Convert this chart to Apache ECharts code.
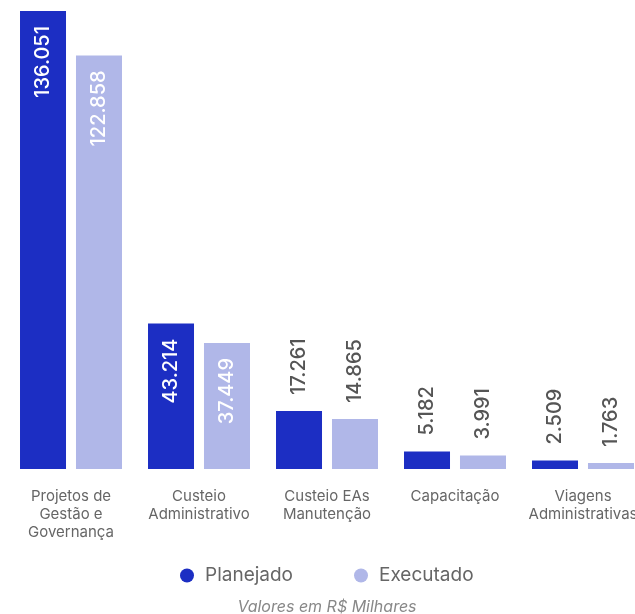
<!DOCTYPE html>
<html>
<head>
<meta charset="utf-8">
<script src="https://cdn.jsdelivr.net/npm/echarts@6/dist/echarts.min.js"></script>
<style>
  html, body { margin: 0; padding: 0; background: #ffffff; }
  #chart { width: 635px; height: 614px; }
</style>
</head>
<body>
<div id="chart"></div>
<script>
// Budget by expense category (R$ thousands)
const categories = [
  'Projetos de\nGestão e\nGovernança',
  'Custeio\nAdministrativo',
  'Custeio EAs\nManutenção',
  'Capacitação',
  'Viagens\nAdministrativas'
];
const seriesNames = ['Planejado', 'Executado'];
const planejado = [136051, 43214, 17261, 5182, 2509];
const executado = [122858, 37449, 14865, 3991, 1763];

const COLORS = ['#1c2ec3', '#b0b7e8'];
const FONT = 'Inter, "Noto Sans", sans-serif';
const yMax = Math.max(...planejado, ...executado);

// Brazilian thousands formatting: 136051 -> 136.051
const fmt = v => v.toLocaleString('pt-BR');

// Tall bars carry their value inside; short ones get it above
function labelFor(v) {
  const inside = v > yMax * 0.2;
  return inside ? {
    show: true, position: 'insideTop', rotate: 90, distance: 15,
    align: 'right', verticalAlign: 'middle',
    color: '#ffffff'
  } : {
    show: true, position: 'top', rotate: 90, distance: 16,
    align: 'left', verticalAlign: 'middle',
    color: '#555555'
  };
}

function buildSeries(name, values, color) {
  return {
    name, type: 'bar', barWidth: 46, barGap: '21.7%',
    itemStyle: { color },
    label: { fontFamily: FONT, fontSize: 20, fontWeight: 500, formatter: p => fmt(p.value) },
    data: values.map(v => ({ value: v, label: labelFor(v) }))
  };
}

const chart = echarts.init(document.getElementById('chart'), null, { renderer: 'canvas' });
chart.setOption({
  animation: false,
  grid: { left: 7, top: 11, width: 640, height: 458, containLabel: false, outerBoundsMode: 'none' },
  xAxis: {
    type: 'category', data: categories,
    axisLine: { show: false }, axisTick: { show: false },
    axisLabel: {
      interval: 0, margin: 18, color: '#666666',
      fontFamily: FONT, fontSize: 15, lineHeight: 18
    }
  },
  yAxis: { type: 'value', min: 0, max: yMax, show: false, splitLine: { show: false } },
  legend: {
    data: seriesNames, left: 175, top: 561, icon: 'circle',
    itemWidth: 14, itemHeight: 14, itemGap: 61,
    textStyle: { fontFamily: FONT, fontSize: 19, color: '#666666', padding: [0, 0, 0, 6] }
  },
  graphic: [{
    type: 'text', x: 327, y: 607,
    style: {
      text: 'Valores em R$ Milhares', fill: '#888888',
      font: 'italic 16px Inter, "Noto Sans", sans-serif',
      align: 'center', verticalAlign: 'middle'
    }
  }],
  series: [
    buildSeries(seriesNames[0], planejado, COLORS[0]),
    buildSeries(seriesNames[1], executado, COLORS[1])
  ]
});
</script>
</body>
</html>
